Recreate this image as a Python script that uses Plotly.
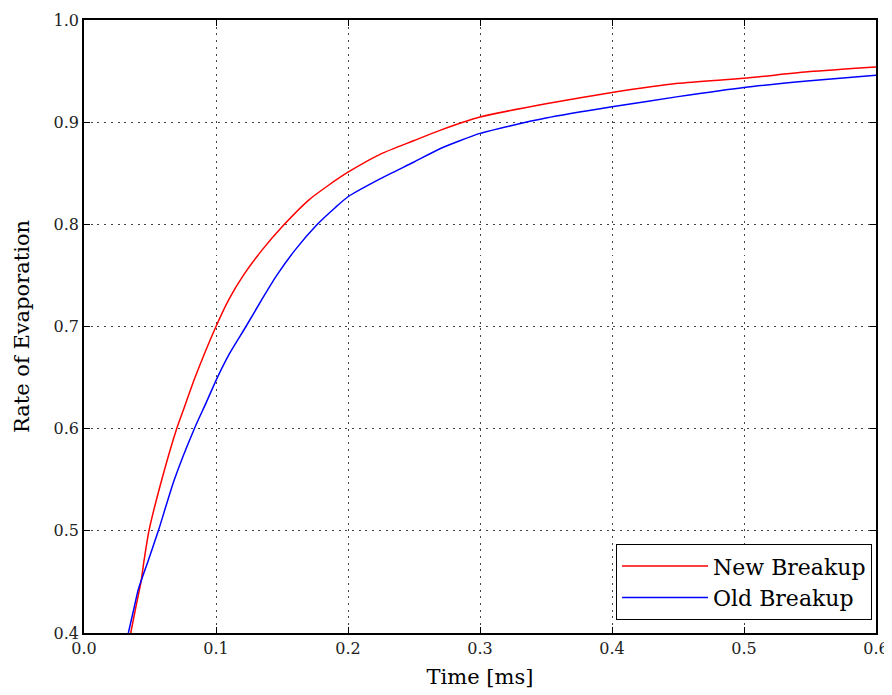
import plotly.graph_objects as go

# Data
new_t = [0.0354, 0.0400, 0.0432, 0.0455, 0.0492, 0.0589, 0.0702, 0.0752, 0.0841,
         0.1000, 0.1100, 0.1207, 0.1350, 0.1518, 0.1700, 0.1850, 0.2000, 0.2250,
         0.2500, 0.2697, 0.3000, 0.3500, 0.4000, 0.4500, 0.5000, 0.5500, 0.6000]
new_rate = [0.400, 0.430, 0.450, 0.471, 0.500, 0.550, 0.600, 0.618, 0.650,
            0.700, 0.727, 0.750, 0.775, 0.800, 0.8235, 0.838, 0.851, 0.869,
            0.882, 0.892, 0.905, 0.918, 0.929, 0.938, 0.943, 0.9495, 0.954]

old_t = [0.0336, 0.0380, 0.0410, 0.0487, 0.0563, 0.0684, 0.0836, 0.0924, 0.1010,
         0.1100, 0.1227, 0.1350, 0.1460, 0.1600, 0.1768, 0.1900, 0.2000, 0.2250,
         0.2500, 0.2697, 0.3000, 0.3250, 0.3500, 0.4000, 0.4500, 0.5000, 0.5500,
         0.6000]
old_rate = [0.400, 0.425, 0.442, 0.471, 0.500, 0.550, 0.600, 0.625, 0.650,
            0.673, 0.700, 0.727, 0.750, 0.775, 0.800, 0.816, 0.827, 0.845,
            0.861, 0.874, 0.889, 0.897, 0.904, 0.915, 0.925, 0.934, 0.9405,
            0.946]

x_ticks = [0.0, 0.1, 0.2, 0.3, 0.4, 0.5, 0.6]
y_ticks = [0.4, 0.5, 0.6, 0.7, 0.8, 0.9, 1.0]

FONT = "DejaVu Serif, Liberation Serif, serif"

fig = go.Figure()
fig.add_trace(go.Scatter(x=new_t, y=new_rate, mode="lines", name="New Breakup",
                         line=dict(color="#ff0000", width=1.5, shape="spline", smoothing=0.6)))
fig.add_trace(go.Scatter(x=old_t, y=old_rate, mode="lines", name="Old Breakup",
                         line=dict(color="#0000ff", width=1.5, shape="spline", smoothing=0.6)))

axis_common = dict(
    showline=True, linecolor="black", linewidth=1.5, mirror="ticks",
    ticks="inside", ticklen=6, tickcolor="black", tickwidth=1,
    showgrid=True, gridcolor="#444444", griddash="2px,4.7px", gridwidth=1,
    zeroline=False, automargin=False,
    tickfont=dict(family=FONT, size=16, color="#222"),
)

fig.update_layout(
    width=892, height=695,
    margin=dict(l=76, r=24, t=12, b=70),
    plot_bgcolor="white", paper_bgcolor="white",
    font=dict(family=FONT, color="black"),
    xaxis=dict(range=[0, 0.6], tickvals=x_ticks, ticktext=[f"{v:.1f}" for v in x_ticks],
               title=dict(text="Time [ms]", font=dict(family=FONT, size=21), standoff=12),
               **axis_common),
    yaxis=dict(range=[0.4, 1.0], tickvals=y_ticks, ticktext=[f"{v:.1f}" for v in y_ticks],
               title=dict(text="Rate of Evaporation", font=dict(family=FONT, size=21), standoff=18),
               **axis_common),
    legend=dict(x=0.995, xanchor="right", y=0.021, yanchor="bottom",
                bordercolor="black", borderwidth=1, bgcolor="white",
                font=dict(family=FONT, size=22, color="black"),
                itemwidth=86, tracegroupgap=0),
    showlegend=True,
)

fig.write_html("out.html")
